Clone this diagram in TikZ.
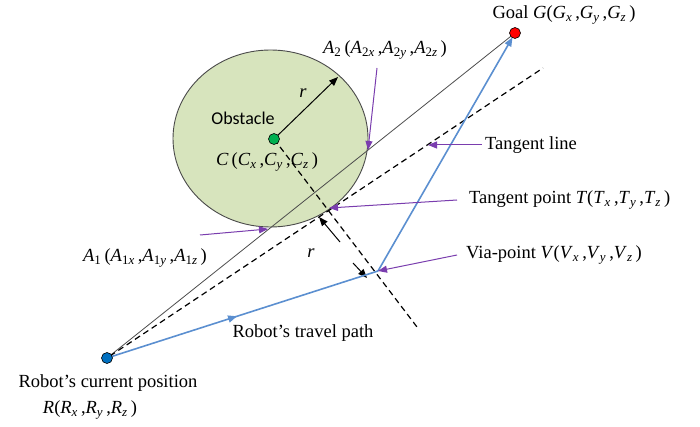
\documentclass[tikz,border=0pt]{standalone}
\usepackage{fontspec}
\setmainfont{Liberation Serif}
\newfontfamily\labelsans{Carlito}
\usetikzlibrary{arrows.meta,decorations.markings}

\definecolor{obsfill}{HTML}{D7E4BD}
\definecolor{obsline}{HTML}{4A4A4A}
\definecolor{pathblue}{HTML}{5B8FD0}
\definecolor{callout}{HTML}{7A3DAE}
\definecolor{robotblue}{HTML}{0070C0}
\definecolor{goalred}{HTML}{FF0000}
\definecolor{centregreen}{HTML}{00B050}

% italic letter with italic subscript
\newcommand\vsub[2]{\textit{#1}\textsubscript{\textit{#2}}}
% italic letter with numbered italic subscript
\newcommand\nsub[3]{\textit{#1}\textsubscript{#2\textit{#3}}}

\tikzset{
  lbl/.style={inner sep=0pt, font=\fontsize{18.5}{22}\selectfont},
  dot/.style={circle, draw=black, line width=0.6pt, minimum size=11pt, inner sep=0pt},
  sightline/.style={draw=black!70, line width=0.8pt},
  dashline/.style={draw=black, line width=1.2pt, dash pattern=on 6pt off 4pt},
  travel/.style={draw=pathblue, line width=1.6pt},
  pointer/.style={draw=callout, line width=1pt, -{Triangle[length=9pt,width=7pt]}},
  dimarrow/.style={draw=black, line width=1pt, -{Triangle[length=9pt,width=7pt]}}
}

\begin{document}
\begin{tikzpicture}[x=1pt, y=-1pt]
\useasboundingbox (0,0) rectangle (700,427);

% obstacle
\draw[fill=obsfill, draw=obsline, line width=0.9pt] (270.5,138.5) ellipse [x radius=97.5, y radius=88.5];

% key points
\coordinate (R) at (107,358);
\coordinate (G) at (515,33);
\coordinate (C) at (274,139);
\coordinate (V) at (378,271);
\coordinate (T) at (329,208);
\coordinate (A1) at (268,229);
\coordinate (A2) at (368,150);
\coordinate (tanEnd) at (543,68);
\coordinate (tanStart) at (110,356);
\coordinate (perpEnd) at (417,327);
\coordinate (rTip) at (338,77);

% straight line from robot to goal
\path[sightline] (R) -- (G);

% tangent line and its perpendicular through the centre
\path[dashline] (tanStart) -- (tanEnd);
\path[dashline] (C) -- (perpEnd);

% radius
\path[dimarrow] (C) -- (rTip);
\node[lbl] (r1) at (303,93) {\textit{r}};

% offset distance r along the perpendicular
\coordinate (d1a) at (340,242);
\coordinate (d1b) at (319,217);
\coordinate (d2a) at (353,263);
\coordinate (d2b) at (367,278);
\path[dimarrow] (d1a) -- (d1b);
\path[dimarrow] (d2a) -- (d2b);
\node[lbl] (r2) at (311,253) {\textit{r}};

% travel path via the via-point
\path[travel, postaction={decorate}, decoration={markings, mark=at position 0.48 with {\arrow{Triangle[length=9pt,width=7pt]}}}] (R) -- (V);
\path[travel, -{Triangle[length=9pt,width=7pt]}, shorten >=5pt] (V) -- (G);

% points
\node[dot, fill=robotblue] (robot) at (R) {};
\node[dot, fill=goalred] (goal) at (G) {};
\node[dot, fill=centregreen] (centre) at (C) {};

% labels
\node[lbl] (goalLbl) at (564,15) {Goal\ \textit{G}(\vsub{G}{x}\,,\vsub{G}{y}\,,\vsub{G}{z}\,)};
\node[lbl] (a2Lbl) at (385,50) {\nsub{A}{2}{}\,(\nsub{A}{2}{x}\,,\nsub{A}{2}{y}\,,\nsub{A}{2}{z}\,)};
\node[lbl, font=\labelsans\fontsize{18}{21}\selectfont] (obsLbl) at (243,118) {Obstacle};
\node[lbl] (cLbl) at (267,162) {\textit{C}\,(\vsub{C}{x}\,,\vsub{C}{y}\,,\vsub{C}{z}\,)};
\node[lbl, anchor=west] (tanLbl) at (485,145) {Tangent line};
\node[lbl, anchor=west] (tptLbl) at (469,200) {Tangent point \textit{T}(\vsub{T}{x}\,,\vsub{T}{y}\,,\vsub{T}{z}\,)};
\node[lbl, anchor=west] (viaLbl) at (466,255) {Via-point \textit{V}(\vsub{V}{x}\,,\vsub{V}{y}\,,\vsub{V}{z}\,)};
\node[lbl] (a1Lbl) at (145,258) {\nsub{A}{1}{}\,(\nsub{A}{1}{x}\,,\nsub{A}{1}{y}\,,\nsub{A}{1}{z}\,)};
\node[lbl] (pathLbl) at (303,333) {Robot's travel path};
\node[lbl] (posLbl) at (108,383) {Robot's current position};
\node[lbl] (rLbl) at (90,410) {\textit{R}(\vsub{R}{x}\,,\vsub{R}{y}\,,\vsub{R}{z}\,)};

% callout pointers
\coordinate (pA2) at (377,68);
\coordinate (pA1) at (200,235);
\coordinate (pTan) at (482,145);
\coordinate (pTanTip) at (428,145);
\coordinate (pT) at (457,200);
\coordinate (pV) at (457,255);
\path[pointer] (pA2) -- (A2);
\path[pointer] (pA1) -- (A1);
\path[pointer] (pTan) -- (pTanTip);
\path[pointer] (pT) -- (T);
\path[pointer] (pV) -- (V);
\end{tikzpicture}
\end{document}
